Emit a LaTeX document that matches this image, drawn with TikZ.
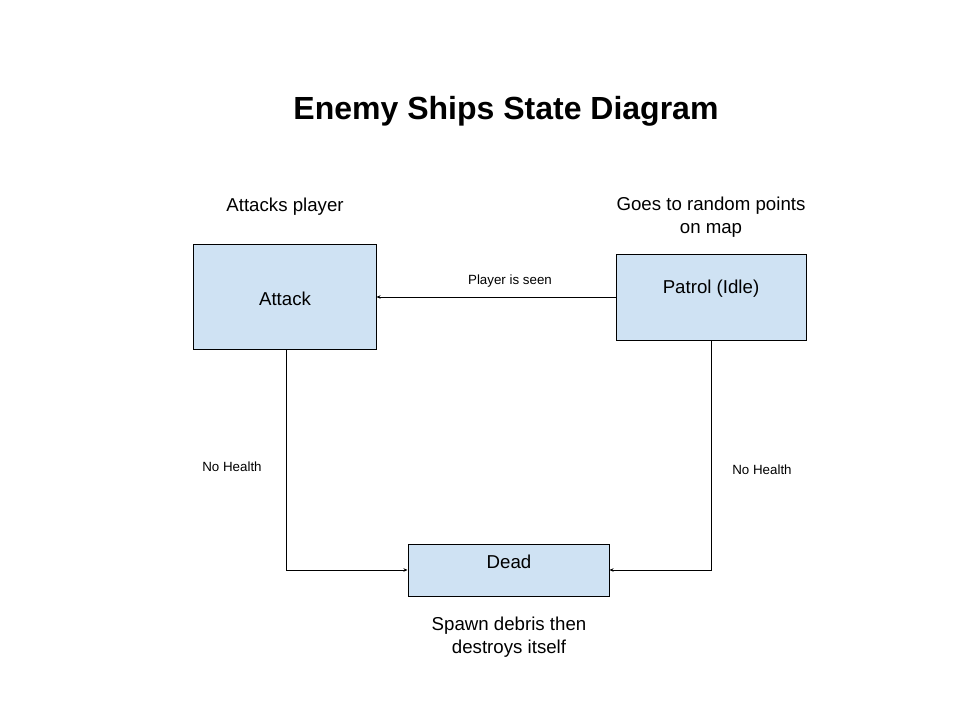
\documentclass[tikz,border=0pt]{standalone}
\usepackage{fontspec}
\setmainfont{Liberation Sans}
\usepackage{xcolor}
\usetikzlibrary{arrows.meta}
\definecolor{stateblue}{HTML}{CFE2F3}

\begin{document}
\begin{tikzpicture}[x=1pt, y=-1pt,
	state/.style={draw=black, fill=stateblue, line width=1pt, inner sep=0pt},
	note/.style={font=\fontsize{18.67}{23}\selectfont, align=center},
	cond/.style={font=\fontsize{13.33}{16}\selectfont},
	trans/.style={line width=1pt, -{Stealth[length=4pt,width=3.5pt]}}]
	\useasboundingbox (0,0) rectangle (960,720);
	\node[font=\fontsize{32}{38}\selectfont\bfseries] (title) at (506,111) {Enemy Ships State Diagram};
	% states
	\node[state, minimum width=183, minimum height=105] (attack) at (284.5,296.5) {};
	\node[note] (attacktxt) at (285,298.5) {Attack};
	\node[state, minimum width=190, minimum height=86] (patrol) at (711,297) {};
	\node[note] (patroltxt) at (711,289) {Patrol (Idle)};
	\node[state, minimum width=201, minimum height=52] (dead) at (508.5,570) {};
	\node[note] (deadtxt) at (509,561.5) {Dead};
	% notes
	\node[note] (attacknote) at (285,207) {Attacks player};
	\node[note] (patrolnote) at (711,217.5) {Goes to random points\\on map};
	\node[note] (deadnote) at (509,637.5) {Spawn debris then\\destroys itself};
	% transitions
	\draw[trans] (patrol.west |- 0,297) -- (attack.east |- 0,297);
	\node[cond] (seen) at (510,281) {Player is seen};
	\coordinate (lcorner) at (286,570);
	\coordinate (rcorner) at (711,570);
	\draw[trans] (attack.south -| lcorner) -- (lcorner) -- (dead.west);
	\draw[trans] (patrol.south) -- (rcorner) -- (dead.east);
	\node[cond] (lhealth) at (232,467) {No Health};
	\node[cond] (rhealth) at (762,470) {No Health};
\end{tikzpicture}
\end{document}
